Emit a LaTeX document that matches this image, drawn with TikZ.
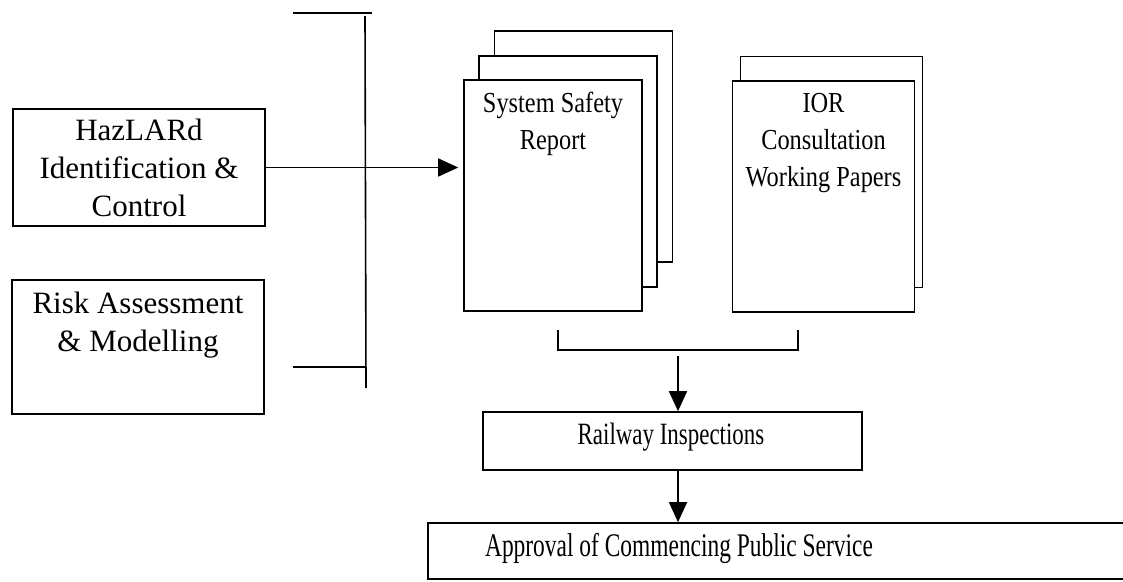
\documentclass[tikz,border=0pt]{standalone}
\usepackage{fontspec}
\setmainfont{Liberation Serif}
\newfontfamily\docfont{Liberation Serif}[FakeStretch=0.84]
\newfontfamily\flowfont{Liberation Serif}[FakeStretch=0.74]
\newfontfamily\apprfont{Liberation Serif}[FakeStretch=0.71]
\usetikzlibrary{arrows.meta}
\begin{document}
\begin{tikzpicture}[x=1pt,y=-1pt, line width=1.6pt,
  box/.style={draw, rectangle, inner sep=0pt, fill=white},
  page/.style={box, minimum width=178pt, minimum height=231pt},
  arr/.style={-{Triangle[length=20pt,width=18pt]}},
  lefttext/.style={font=\fontsize{31}{38}\selectfont, align=center},
  doctext/.style={font=\docfont\fontsize{29}{37}\selectfont, align=center, inner sep=0pt},
  flowtext/.style={font=\flowfont\fontsize{31}{36}\selectfont, inner sep=0pt},
  bigflowtext/.style={font=\apprfont\fontsize{33}{36}\selectfont, inner sep=0pt},
]
\useasboundingbox (0,0) rectangle (1123,581);

% left boxes
\node[box, minimum width=252pt, minimum height=117pt, lefttext] (haz) at (139,167.5) {HazLARd\\Identification \&\\Control};
\node[box, minimum width=252pt, minimum height=134pt] (risk) at (138,347) {};
\node[lefttext, anchor=north, inner sep=0pt] (risktext) at ([yshift=-12pt]risk.north) {Risk Assessment\\\& Modelling};

% bracket
\coordinate (bt1) at (293,13);
\coordinate (bt2) at (372,13);
\coordinate (bv1) at (365,16);
\coordinate (bv2) at (366,388);
\coordinate (bb1) at (293,367);
\coordinate (bb2) at (366,367);
\draw (bt1) -- (bt2);
\draw (bv1) -- (bv2);
\draw (bb1) -- (bb2);

% system safety report pages
\node[page] (ssr3) at (583.5,146.5) {};
\node[page] (ssr2) at (568,171.5) {};
\node[page] (ssr1) at (553,195.5) {};
\node[doctext, anchor=north] (ssrtext) at ([yshift=-12pt]ssr1.north) {System Safety\\Report};

% IOR pages
\node[page, minimum width=182pt] (ior2) at (831.5,172) {};
\node[page, minimum width=182pt] (ior1) at (823.5,196.5) {};
\node[doctext, anchor=north] (iortext) at ([yshift=-12pt]ior1.north) {IOR\\Consultation\\Working Papers};

% arrow from HazLARd
\draw[arr, shorten >=5pt] (haz.east) -- (haz.east -| ssr1.west);

% lower bracket
\coordinate (lb1) at (558,330);
\coordinate (lb2) at (558,350);
\coordinate (lb3) at (798,350);
\coordinate (lb4) at (798,330);
\draw (lb1) -- (lb2) -- (lb3) -- (lb4);
\coordinate (brm) at (678,356);

% flow boxes
\node[box, minimum width=379pt, minimum height=58pt] (rail) at (672.5,441) {};
\node[flowtext, anchor=base] (railtext) at (671,444) {Railway Inspections};
\node[box, minimum width=712pt, minimum height=56pt] (appr) at (784,551) {};
\node[bigflowtext, anchor=base] (apprtext) at (679,556) {Approval of Commencing Public Service};

\draw[arr] (brm) -- (brm |- rail.north);
\draw[arr] (rail.south -| brm) -- (brm |- appr.north);
\end{tikzpicture}
\end{document}
